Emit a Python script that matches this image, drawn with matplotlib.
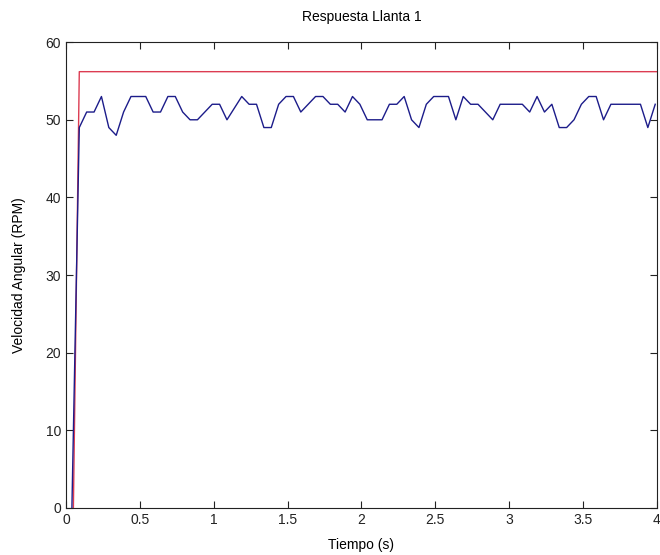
import numpy as np
import matplotlib
matplotlib.use("Agg")
import matplotlib.pyplot as plt

# reference (step) signal
ref_t = [0.05, 0.09, 4.0]
ref_rpm = [0.0, 56.2, 56.2]

# measured wheel speed, sampled every 0.05 s starting at 0.04 s
t0 = 0.04
dt = 0.05
rpm = [0, 49, 51, 51, 53, 49, 48, 51, 53, 53,
       53, 51, 51, 53, 53, 51, 50, 50, 51, 52,
       52, 50, 51.5, 53, 52, 52, 49, 49, 52, 53,
       53, 51, 52, 53, 53, 52, 52, 51, 53, 52,
       50, 50, 50, 52, 52, 53, 50, 49, 52, 53,
       53, 53, 50, 53, 52, 52, 51, 50, 52, 52,
       52, 52, 51, 53, 51, 52, 49, 49, 50, 52,
       53, 53, 50, 52, 52, 52, 52, 52, 49, 52]
t = t0 + dt * np.arange(len(rpm))

plt.rcParams['font.family'] = ['Liberation Sans', 'DejaVu Sans']

fig = plt.figure(figsize=(6.6, 5.55), dpi=100)
ax = fig.add_axes([0.1, 0.085, 0.895, 0.839])

ax.plot(ref_t, ref_rpm, color="#dc3c52", linewidth=1.0)
ax.plot(t, rpm, color="#1c1c8a", linewidth=1.0)

ax.set_xlim(0, 4)
ax.set_ylim(0, 60)
ax.set_xticks(np.arange(0, 4.01, 0.5))
ax.set_xticklabels(["0", "0.5", "1", "1.5", "2", "2.5", "3", "3.5", "4"])
ax.set_yticks(np.arange(0, 61, 10))

ax.tick_params(direction="in", top=True, right=True, length=5, width=0.8,
               labelsize=10, colors="#222222")
for s in ax.spines.values():
    s.set_linewidth(0.8)
    s.set_color("#222222")

ax.set_title("Respuesta Llanta 1", fontsize=10, pad=15)
ax.set_xlabel("Tiempo (s)", fontsize=10, labelpad=8)
ax.set_ylabel("Velocidad Angular (RPM)", fontsize=10, labelpad=14)

fig.savefig("out.png", dpi=100)
